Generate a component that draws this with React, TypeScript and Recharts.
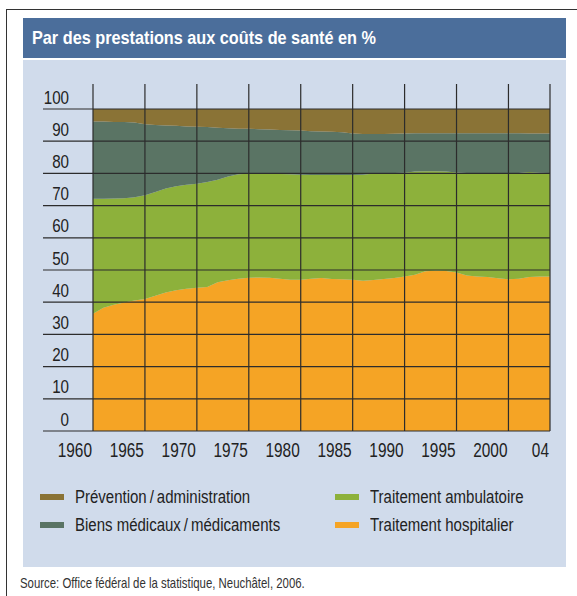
import React from 'react';
import { AreaChart, Area, XAxis, YAxis, ReferenceLine } from 'recharts';

const years = [
  1960, 1961, 1962, 1963, 1964, 1965, 1966, 1967, 1968, 1969,
  1970, 1971, 1972, 1973, 1974, 1975, 1976, 1977, 1978, 1979,
  1980, 1981, 1982, 1983, 1984, 1985, 1986, 1987, 1988, 1989,
  1990, 1991, 1992, 1993, 1994, 1995, 1996, 1997, 1998, 1999,
  2000, 2001, 2002, 2003, 2004,
];

const hospitalier = [
  36.4, 38.3, 39.2, 39.9, 40.5, 41.0, 42.0, 43.0, 43.7, 44.2,
  44.5, 44.7, 46.2, 46.8, 47.3, 47.6, 47.7, 47.6, 47.3, 47.0,
  47.0, 47.3, 47.5, 47.2, 47.1, 47.0, 46.7, 46.9, 47.2, 47.5,
  48.0, 48.5, 49.6, 49.8, 49.7, 49.2, 48.3, 48.0, 47.8, 47.4,
  47.1, 47.3, 47.8, 48.0, 48.0,
];

const ambulatoire = [
  35.7, 33.8, 33.0, 32.4, 32.1, 32.2, 32.2, 32.3, 32.3, 32.3,
  32.3, 32.6, 31.8, 32.2, 32.4, 32.3, 32.2, 32.3, 32.5, 32.7,
  32.6, 32.2, 32.0, 32.3, 32.4, 32.5, 32.9, 33.1, 32.8, 32.6,
  32.2, 32.1, 31.1, 30.9, 30.9, 31.1, 31.8, 32.0, 32.2, 32.6,
  32.9, 32.8, 32.6, 32.2, 32.1,
];

const biens = [
  24.0, 24.0, 23.8, 23.7, 23.2, 22.1, 20.8, 19.6, 18.8, 18.1,
  17.7, 17.1, 16.2, 15.0, 14.2, 14.0, 13.8, 13.7, 13.7, 13.7,
  13.7, 13.6, 13.5, 13.4, 13.3, 12.9, 12.6, 12.2, 12.2, 12.2,
  12.2, 11.9, 11.8, 11.8, 11.9, 12.2, 12.4, 12.5, 12.5, 12.5,
  12.5, 12.4, 12.0, 12.2, 12.3,
];

const prevention = [
  3.9, 3.9, 4.0, 4.0, 4.2, 4.7, 5.0, 5.1, 5.2, 5.4,
  5.5, 5.6, 5.8, 6.0, 6.1, 6.1, 6.3, 6.4, 6.5, 6.6,
  6.7, 6.9, 7.0, 7.1, 7.2, 7.6, 7.8, 7.8, 7.8, 7.7,
  7.6, 7.5, 7.5, 7.5, 7.5, 7.5, 7.5, 7.5, 7.5, 7.5,
  7.5, 7.5, 7.6, 7.6, 7.6,
];

const xTicks = [1960, 1965, 1970, 1975, 1980, 1985, 1990, 1995, 2000, 2004];
const xTickLabels = ['1960', '1965', '1970', '1975', '1980', '1985', '1990', '1995', '2000', '04'];
const yTicks = [0, 10, 20, 30, 40, 50, 60, 70, 80, 90, 100];

const title = 'Par des prestations aux coûts de santé en %';
const source = 'Source: Office fédéral de la statistique, Neuchâtel, 2006.';

const seriesNames: Record<string, string> = {
  hospitalier: 'Traitement hospitalier',
  ambulatoire: 'Traitement ambulatoire',
  biens: 'Biens médicaux\u2009/\u2009médicaments',
  prevention: 'Prévention\u2009/\u2009administration',
};

const colors: Record<string, string> = {
  hospitalier: '#F5A425',
  ambulatoire: '#8DB13B',
  biens: '#5A7464',
  prevention: '#8A7336',
};

const data = years.map((year, i) => ({
  year,
  hospitalier: hospitalier[i],
  ambulatoire: ambulatoire[i],
  biens: biens[i],
  prevention: prevention[i],
}));

const stackOrder = ['hospitalier', 'ambulatoire', 'biens', 'prevention'];

const legendItems = [
  { key: 'prevention', col: 0, row: 0 },
  { key: 'biens', col: 0, row: 1 },
  { key: 'ambulatoire', col: 1, row: 0 },
  { key: 'hospitalier', col: 1, row: 1 },
];

const FONT = '"Liberation Sans", Arial, sans-serif';
const NARROW = 0.82;
const GRID = '#2c2c2c';

const XTick = (props: any) => {
  const { x, y, payload } = props;
  const idx = xTicks.indexOf(payload.value);
  return (
    <text
      transform={`translate(${x - 1},${y + 26}) scale(0.79,1)`}
      textAnchor="end"
      fontFamily={FONT}
      fontSize={19.5}
      fill="#222"
    >
      {xTickLabels[idx]}
    </text>
  );
};

const YTick = (props: any) => {
  const { y, payload } = props;
  return (
    <text
      transform={`translate(69,${y - 5.5}) scale(${NARROW},1)`}
      textAnchor="end"
      fontFamily={FONT}
      fontSize={18.5}
      fill="#222"
    >
      {payload.value}
    </text>
  );
};

const HLine = (p: any) => (
  <line x1={Math.min(p.x1, p.x2) - 50} x2={Math.max(p.x1, p.x2)} y1={p.y1} y2={p.y2} stroke={GRID} strokeWidth={1.2} />
);

const VLine = (p: any) => (
  <line x1={p.x1} x2={p.x2} y1={Math.min(p.y1, p.y2) - 25} y2={Math.max(p.y1, p.y2)} stroke={GRID} strokeWidth={1.2} />
);

const narrowStyle: React.CSSProperties = {
  display: 'inline-block',
  transform: `scaleX(${NARROW})`,
  transformOrigin: 'left center',
  whiteSpace: 'nowrap',
};

export default function App() {
  return (
    <div
      style={{
        position: 'absolute',
        left: 0,
        top: 0,
        width: 577,
        height: 596,
        overflow: 'hidden',
        background: '#ffffff',
        fontFamily: FONT,
      }}
    >
      <div
        style={{
          position: 'absolute',
          left: 6,
          top: 9,
          width: 640,
          height: 640,
          border: '1px solid #333',
        }}
      />
      <div
        style={{
          position: 'absolute',
          left: 23,
          top: 18,
          width: 543,
          height: 40,
          background: '#4B6E9B',
        }}
      />
      <div
        style={{
          position: 'absolute',
          left: 32,
          top: 18,
          height: 40,
          lineHeight: '40px',
          color: '#ffffff',
          fontSize: 19,
          fontWeight: 'bold',
          ...narrowStyle,
          transform: 'scaleX(0.855)',
        }}
      >
        {title}
      </div>
      <div
        style={{
          position: 'absolute',
          left: 23,
          top: 60,
          width: 543,
          height: 507,
          background: '#D0DBEB',
        }}
      />
      <div style={{ position: 'absolute', left: 0, top: 0 }}>
        <AreaChart
          width={577}
          height={470}
          data={data}
          margin={{ top: 109, right: 27, bottom: 9, left: 43 }}
        >
          {stackOrder.map((k) => (
            <Area
              key={k}
              type="linear"
              dataKey={k}
              name={seriesNames[k]}
              stackId="1"
              stroke="none"
              fill={colors[k]}
              fillOpacity={1}
              isAnimationActive={false}
              dot={false}
              activeDot={false}
            />
          ))}
          <XAxis
            dataKey="year"
            type="number"
            domain={[1960, 2004]}
            ticks={xTicks}
            interval={0}
            height={30}
            tickSize={0}
            tickMargin={0}
            axisLine={false}
            tickLine={false}
            tick={<XTick />}
          />
          <YAxis
            type="number"
            domain={[0, 100]}
            ticks={yTicks}
            interval={0}
            width={50}
            tickSize={0}
            tickMargin={0}
            axisLine={false}
            tickLine={false}
            tick={<YTick />}
          />
          {yTicks.map((v) => (
            <ReferenceLine key={'h' + v} y={v} shape={HLine} />
          ))}
          {xTicks.map((v) => (
            <ReferenceLine key={'v' + v} x={v} shape={VLine} />
          ))}
        </AreaChart>
      </div>
      {legendItems.map((it) => (
        <div
          key={it.key}
          style={{
            position: 'absolute',
            left: it.col === 0 ? 40 : 335,
            top: it.row === 0 ? 485 : 513,
            height: 24,
            display: 'flex',
            alignItems: 'center',
            whiteSpace: 'nowrap',
          }}
        >
          <span
            style={{
              display: 'inline-block',
              width: 24,
              height: 6,
              background: colors[it.key],
              marginRight: 11,
            }}
          />
          <span style={{ ...narrowStyle, fontSize: 18.3, color: '#222' }}>{seriesNames[it.key]}</span>
        </div>
      ))}
      <div
        style={{
          position: 'absolute',
          left: 20,
          top: 575,
          fontSize: 13.9,
          color: '#333',
          ...narrowStyle,
        }}
      >
        {source}
      </div>
    </div>
  );
}
